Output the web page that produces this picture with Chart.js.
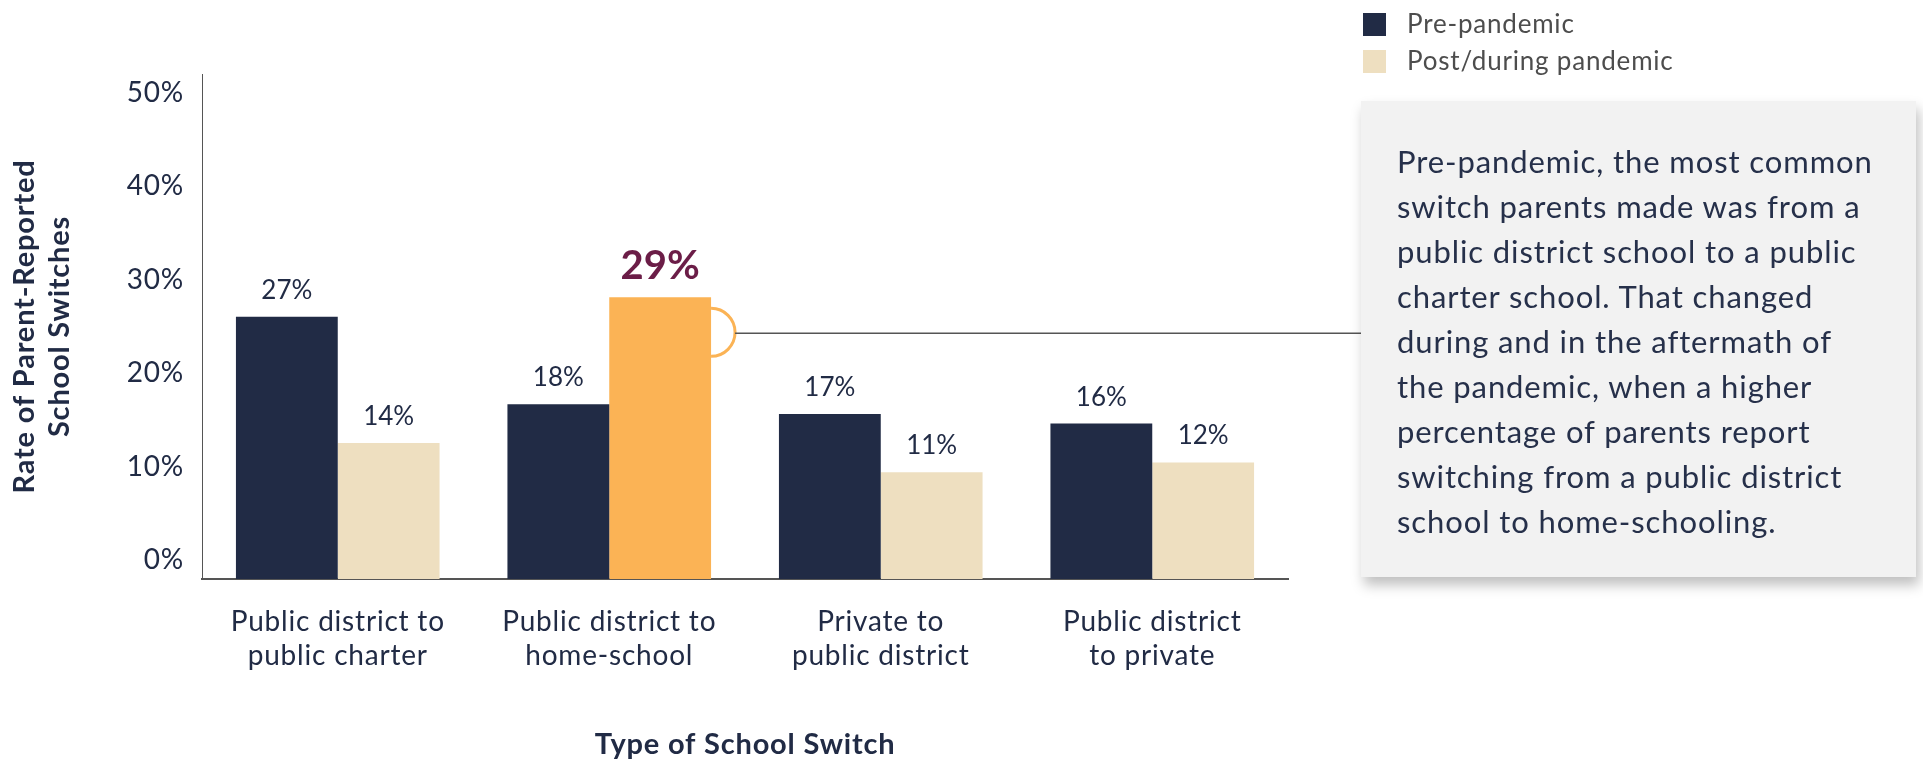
<!DOCTYPE html>
<html>
<head>
<meta charset="utf-8">
<script src="https://cdn.jsdelivr.net/npm/chart.js@4.4.1/dist/chart.umd.min.js"></script>
<style>
  html, body { margin: 0; padding: 0; background: #fff; }
  body { width: 1923px; height: 762px; position: relative; overflow: hidden; font-family: Lato, 'Noto Sans', sans-serif; }
  #chart { position: absolute; left: 0; top: 0; }
  .leg-row { position: absolute; left: 1363px; height: 23px; }
  .leg-sw { position: absolute; left: 0; top: 0; width: 23px; height: 23px; }
  .leg-txt { position: absolute; left: 44px; top: -5px; white-space: nowrap; font-size: 26px; line-height: 31px; letter-spacing: 0.8px; color: #4d4d4d; }
  #note {
    position: absolute; left: 1361px; top: 101px; width: 555px; height: 476px;
    box-sizing: border-box; padding: 38px 0 0 36px;
    background: #f2f2f2; box-shadow: 3px 8px 12px rgba(0,0,0,0.25);
    font-size: 31px; line-height: 45px; letter-spacing: 0.9px; color: #26304a; white-space: nowrap;
  }
</style>
</head>
<body>
<canvas id="chart" width="1923" height="762"></canvas>

<div class="leg-row" style="top:13px"><div class="leg-sw" style="background:#212b45"></div><div class="leg-txt">Pre-pandemic</div></div>
<div class="leg-row" style="top:50px"><div class="leg-sw" style="background:#eedfc0"></div><div class="leg-txt">Post/during pandemic</div></div>

<div id="note">Pre-pandemic, the most common<br>switch parents made was from a<br>public district school to a public<br>charter school. That changed<br>during and in the aftermath of<br>the pandemic, when a higher<br>percentage of parents report<br>switching from a public district<br>school to home-schooling.</div>

<script>
// ── DATA ──────────────────────────────────────────────────────────────────────
const CATEGORIES = [
  ['Public district to', 'public charter'],
  ['Public district to', 'home-school'],
  ['Private to', 'public district'],
  ['Public district', 'to private']
]
const PRE_PANDEMIC  = [27, 18, 17, 16]
const POST_PANDEMIC = [14, 29, 11, 12]
const Y_TICKS       = [0, 10, 20, 30, 40, 50]

// barra destacada (Post/during, home-school)
const HL_DATASET = 1
const HL_INDEX   = 1

const NAVY  = '#212b45'
const BEIGE = '#eedfc0'
const ORNG  = '#fbb355'
const FONT  = "Lato, 'Noto Sans', sans-serif"

// Lato é mais estreita que a fonte original: abre um pouco o espaçamento
const spacingPlugin = {
  id: 'spacing',
  beforeDraw(chart) { chart.ctx.letterSpacing = '0.8px' }
}

// Rótulos de valor + círculo e linha do destaque
const calloutPlugin = {
  id: 'callout',
  afterDatasetsDraw(chart) {
    const ctx = chart.ctx
    ctx.save()
    ctx.letterSpacing = '0px'
    chart.data.datasets.forEach((ds, di) => {
      chart.getDatasetMeta(di).data.forEach((bar, i) => {
        const hi = di === HL_DATASET && i === HL_INDEX
        ctx.font = hi ? `bold 40px ${FONT}` : `26px ${FONT}`
        ctx.fillStyle = hi ? '#6b1d47' : NAVY
        ctx.textAlign = 'center'; ctx.textBaseline = 'alphabetic'
        ctx.fillText(ds.data[i] + '%', bar.x, bar.y - 18)
      })
    })

    const hb = chart.getDatasetMeta(HL_DATASET).data[HL_INDEX]
    const cx = hb.x + hb.width / 2, cy = hb.y + 35, r = 24
    ctx.strokeStyle = ORNG; ctx.lineWidth = 3
    ctx.beginPath(); ctx.arc(cx, cy, r, -Math.PI / 2, Math.PI / 2); ctx.stroke()

    const note = document.getElementById('note')
    ctx.strokeStyle = '#555'; ctx.lineWidth = 1.5
    ctx.beginPath(); ctx.moveTo(cx + r, cy + 1); ctx.lineTo(note.offsetLeft, cy + 1); ctx.stroke()
    ctx.restore()
  }
}

new Chart(document.getElementById('chart'), {
  type: 'bar',
  plugins: [spacingPlugin, calloutPlugin],
  data: {
    labels: CATEGORIES,
    datasets: [
      { label: 'Pre-pandemic', data: PRE_PANDEMIC, backgroundColor: NAVY, yAxisID: 'yv' },
      { label: 'Post/during pandemic', data: POST_PANDEMIC,
        backgroundColor: POST_PANDEMIC.map((v, i) => i === HL_INDEX ? ORNG : BEIGE), yAxisID: 'yv' }
    ]
  },
  options: {
    responsive: false, animation: false,
    layout: { padding: { left: 0, top: 74, right: 635, bottom: 0 } },
    datasets: { bar: { categoryPercentage: 0.75, barPercentage: 1, borderWidth: 0 } },
    plugins: { legend: { display: false }, tooltip: { enabled: false } },
    scales: {
      x: {
        grid: { display: false, drawTicks: false },
        border: { display: true, color: '#555', width: 2 },
        ticks: { color: NAVY, padding: 26, font: { family: FONT, size: 28, lineHeight: 1.21 } },
        title: { display: true, text: 'Type of School Switch', color: NAVY,
                 font: { family: FONT, size: 29, weight: 'bold' }, padding: { top: 0, bottom: 0 } },
        afterFit: s => { s.height = 183 }
      },
      // eixo visível só com os rótulos
      y: {
        min: -2.03, max: 52.03,
        grid: { display: false, drawTicks: false },
        border: { display: true, color: '#555', width: 1 },
        afterBuildTicks: s => { s.ticks = Y_TICKS.map(v => ({ value: v })) },
        ticks: { color: NAVY, padding: 18, font: { family: FONT, size: 28 }, callback: v => v + '%' },
        title: { display: true, text: ['Rate of Parent-Reported', 'School Switches'], color: NAVY,
                 font: { family: FONT, size: 29, weight: 'bold', lineHeight: 1.207 }, padding: { top: 7.5 } },
        afterFit: s => { s.width = 202 }
      },
      // eixo escondido onde as barras são medidas
      yv: { display: false, min: 0, max: 52 }
    }
  }
})
</script>
</body>
</html>
